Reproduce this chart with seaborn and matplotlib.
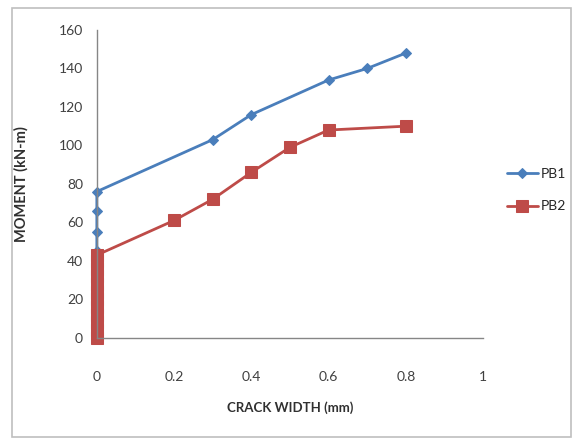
import numpy as np
import pandas as pd
import matplotlib
matplotlib.use("Agg")
import matplotlib.pyplot as plt
import seaborn as sns
from matplotlib.patches import Rectangle

# ------------------------------------------------------------------
# Data
# ------------------------------------------------------------------
pb1_crack = [0, 0, 0, 0, 0, 0, 0, 0, 0, 0.3, 0.4, 0.6, 0.7, 0.8]
pb1_moment = [0, 10, 20, 30, 40, 45, 55, 66, 76, 103, 116, 134, 140, 148]

pb2_crack = [0, 0, 0, 0, 0, 0, 0, 0, 0, 0, 0, 0, 0.2, 0.3, 0.4, 0.5, 0.6, 0.8]
pb2_moment = [0, 4, 8, 12, 16, 20, 24, 28, 32, 36, 40, 43, 61, 72, 86, 99, 108, 110]

x_ticks = [0, 0.2, 0.4, 0.6, 0.8, 1]
x_tick_labels = ["0", "0.2", "0.4", "0.6", "0.8", "1"]
y_ticks = [0, 20, 40, 60, 80, 100, 120, 140, 160]

blue = "#4A7EBB"
red = "#BE4B48"
grey = "#868686"

sns.set_style("white")
plt.rcParams["font.family"] = ["Lato", "DejaVu Sans"]

fig = plt.figure(figsize=(5.73, 4.41), dpi=100)
ax = fig.add_axes([0.169, 0.234, 0.674, 0.698])

sns.lineplot(x=pb1_crack, y=pb1_moment, estimator=None, sort=False, ax=ax,
             color=blue, marker="D", markersize=5.5, markeredgecolor=blue,
             linewidth=2, label="PB1")
sns.lineplot(x=pb2_crack, y=pb2_moment, estimator=None, sort=False, ax=ax,
             color=red, marker="s", markersize=9, markeredgecolor=red,
             linewidth=2, label="PB2")

ax.set_xlim(0, 1)
ax.set_ylim(0, 160)
ax.set_xticks(x_ticks)
ax.set_xticklabels(x_tick_labels)
ax.set_yticks(y_ticks)
for ln in ax.get_lines():
    ln.set_clip_on(False)

for side in ["top", "right"]:
    ax.spines[side].set_visible(False)
for side in ["left", "bottom"]:
    ax.spines[side].set_color(grey)
    ax.spines[side].set_linewidth(1)

ax.tick_params(axis="x", direction="out", length=4, color=grey, pad=20,
               labelsize=10, labelcolor="#404040")
ax.tick_params(axis="y", direction="out", length=4, color=grey, pad=6,
               labelsize=10, labelcolor="#404040")
ax.grid(False)

ax.set_xlabel("CRACK WIDTH (mm)", fontsize=9.5, fontweight="bold",
              color="#303030")
ax.set_ylabel("MOMENT (kN-m)", fontsize=10.5, fontweight="bold",
              color="#303030", labelpad=22)
ax.xaxis.set_label_coords(0.5, -0.205)

ax.legend(loc="center left", bbox_to_anchor=(1.03, 0.48), frameon=False,
          fontsize=10, handlelength=2.2, labelspacing=1.5, handletextpad=0.2)

# outer chart border
fig.patches.append(Rectangle((0.021, 0.01), 0.975, 0.972, transform=fig.transFigure,
                             fill=False, edgecolor="#BFBFBF", linewidth=1.2))

fig.savefig("out.png", dpi=100)
